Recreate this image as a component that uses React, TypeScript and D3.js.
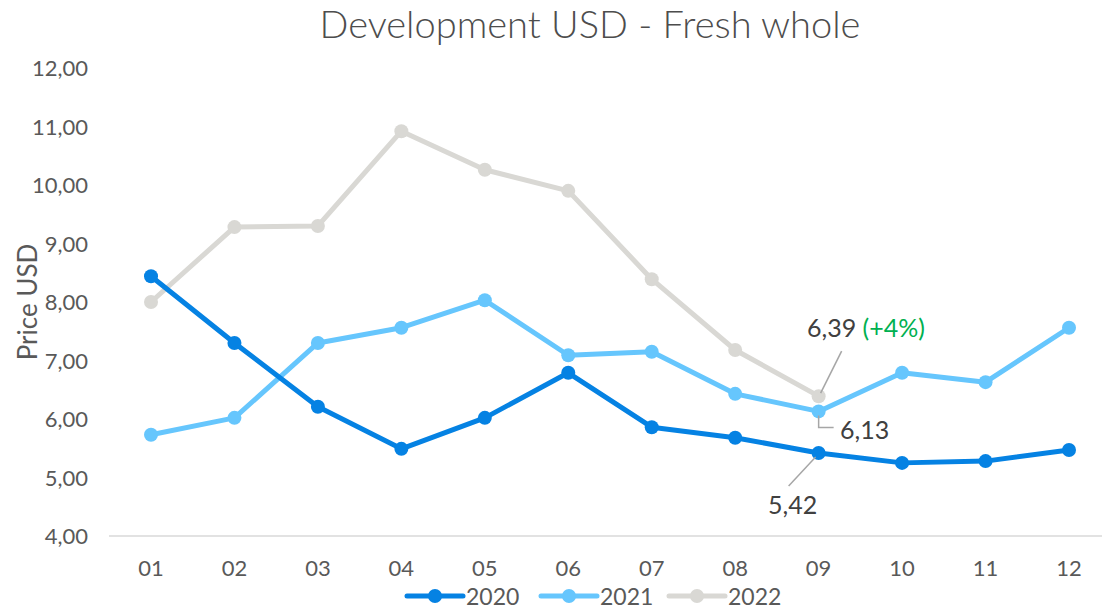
import React, { useEffect, useRef } from "react";
import * as d3 from "d3";

const months = ["01", "02", "03", "04", "05", "06", "07", "08", "09", "10", "11", "12"];
const years = ["2020", "2021", "2022"];
const values2020 = [8.44, 7.3, 6.21, 5.49, 6.02, 6.79, 5.86, 5.68, 5.42, 5.25, 5.28, 5.47];
const values2021 = [5.73, 6.02, 7.3, 7.56, 8.03, 7.09, 7.15, 6.43, 6.13, 6.79, 6.63, 7.56];
const values2022 = [8.0, 9.28, 9.3, 10.92, 10.26, 9.9, 8.39, 7.18, 6.39];
const colors = ["#0582E3", "#66C6FD", "#D9D8D4"];
const yTicks = [4, 5, 6, 7, 8, 9, 10, 11, 12];

const fmt = (v: number) => v.toFixed(2).replace(".", ",");

export default function App() {
  const ref = useRef<SVGSVGElement>(null);

  useEffect(() => {
    const width = 1102;
    const height = 609;
    const svg = d3.select(ref.current);
    svg.selectAll("*").remove();
    const font = "Lato, 'Open Sans', sans-serif";
    const textColor = "#595959";

    const x = d3.scalePoint<string>().domain(months).range([151, 1069]);
    const y = d3.scaleLinear().domain([4, 12]).range([536, 68]);

    svg
      .append("text")
      .attr("x", 590)
      .attr("y", 38)
      .attr("text-anchor", "middle")
      .attr("font-family", font)
      .attr("font-weight", 300)
      .attr("font-size", 38)
      .attr("fill", "#4d4d4d")
      .text("Development USD - Fresh whole");

    // base axis line
    svg
      .append("line")
      .attr("x1", 109)
      .attr("x2", 1111)
      .attr("y1", y(4))
      .attr("y2", y(4))
      .attr("stroke", "#d9d9d9")
      .attr("stroke-width", 1.5);

    svg
      .append("g")
      .selectAll("text")
      .data(yTicks)
      .enter()
      .append("text")
      .attr("x", 88)
      .attr("y", (d) => y(d) + 8)
      .attr("text-anchor", "end")
      .attr("font-family", font)
      .attr("font-size", 22)
      .attr("fill", textColor)
      .text((d) => fmt(d));

    svg
      .append("g")
      .selectAll("text")
      .data(months)
      .enter()
      .append("text")
      .attr("x", (d) => x(d)!)
      .attr("y", 576)
      .attr("text-anchor", "middle")
      .attr("font-family", font)
      .attr("font-size", 22)
      .attr("fill", textColor)
      .text((d) => d);

    svg
      .append("text")
      .attr("transform", "translate(37,302) rotate(-90)")
      .attr("text-anchor", "middle")
      .attr("font-family", font)
      .attr("font-size", 26)
      .attr("fill", textColor)
      .text("Price USD");

    const series = [values2022, values2021, values2020];
    const seriesColors = [colors[2], colors[1], colors[0]];
    const line = d3
      .line<number>()
      .x((_, i) => x(months[i])!)
      .y((d) => y(d));

    series.forEach((vals, si) => {
      const g = svg.append("g");
      g.append("path")
        .attr("d", line(vals))
        .attr("fill", "none")
        .attr("stroke", seriesColors[si])
        .attr("stroke-width", 5)
        .attr("stroke-linejoin", "round");
      g.selectAll("circle")
        .data(vals)
        .enter()
        .append("circle")
        .attr("cx", (_, i) => x(months[i])!)
        .attr("cy", (d) => y(d))
        .attr("r", 7)
        .attr("fill", seriesColors[si]);
    });

    // annotations
    const px = x("09")!;
    const ann = svg.append("g").attr("font-family", font).attr("font-size", 25);
    const leader = "#a6a6a6";
    ann
      .append("line")
      .attr("x1", px + 2)
      .attr("y1", y(values2022[8]) - 3)
      .attr("x2", px + 23)
      .attr("y2", y(values2022[8]) - 45)
      .attr("stroke", leader)
      .attr("stroke-width", 1.5);
    const t1 = ann.append("text").attr("x", 807).attr("y", 337).attr("fill", "#404040");
    t1.append("tspan").text(fmt(values2022[8]) + " ");
    t1.append("tspan").attr("fill", "#00B050").text("(+4%)");

    ann
      .append("path")
      .attr(
        "d",
        `M${px},${y(values2021[8]) + 4}V${y(values2021[8]) + 16}H${px + 15}`
      )
      .attr("fill", "none")
      .attr("stroke", leader)
      .attr("stroke-width", 1.5);
    ann.append("text").attr("x", 840).attr("y", 439).attr("fill", "#404040").text(fmt(values2021[8]));

    ann
      .append("line")
      .attr("x1", px - 3)
      .attr("y1", y(values2020[8]) + 4)
      .attr("x2", px - 30)
      .attr("y2", y(values2020[8]) + 33)
      .attr("stroke", leader)
      .attr("stroke-width", 1.5);
    ann.append("text").attr("x", 768).attr("y", 514).attr("fill", "#404040").text(fmt(values2020[8]));

    // legend
    const legendX = [407, 541, 669];
    const leg = svg.append("g");
    years.forEach((yr, i) => {
      const lx = legendX[i];
      leg.append("line")
        .attr("x1", lx)
        .attr("x2", lx + 56)
        .attr("y1", 596)
        .attr("y2", 596)
        .attr("stroke", colors[i])
        .attr("stroke-width", 5)
        .attr("stroke-linecap", "round");
      leg.append("circle").attr("cx", lx + 28).attr("cy", 596).attr("r", 7).attr("fill", colors[i]);
      leg.append("text")
        .attr("x", lx + 59)
        .attr("y", 605)
        .attr("font-family", font)
        .attr("font-size", 23)
        .attr("fill", textColor)
        .text(yr);
    });

    svg.attr("width", width).attr("height", height);
  }, []);

  return (
    <svg
      ref={ref}
      width={1102}
      height={609}
      style={{ position: "absolute", left: 0, top: 0, background: "#fff" }}
    />
  );
}
